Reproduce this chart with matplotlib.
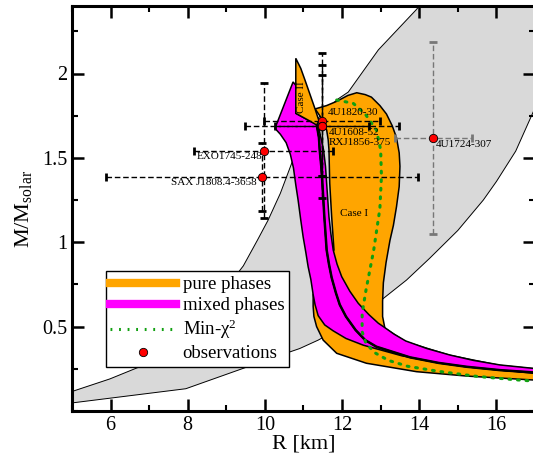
import numpy as np
import matplotlib
matplotlib.use("Agg")
import matplotlib.pyplot as plt
from matplotlib.lines import Line2D
from matplotlib.ticker import MultipleLocator, FixedLocator, FuncFormatter

plt.rcParams["font.family"] = ["Liberation Serif", "DejaVu Serif"]
plt.rcParams["mathtext.fontset"] = "custom"
plt.rcParams["mathtext.rm"] = "Liberation Serif"
plt.rcParams["mathtext.it"] = "Liberation Serif:italic"

# allowed M-R band (gray): upper/left edge and lower/right edge
band_upper_R = [4.9, 5.98, 6.84, 7.5, 8.2, 8.9, 9.44, 9.8, 10.08, 10.4, 10.73, 11.0, 11.5, 11.9, 12.16, 12.94, 13.93, 14.1]
band_upper_M = [0.108, 0.19, 0.27, 0.38, 0.53, 0.70, 0.86, 1.01, 1.13, 1.29, 1.49, 1.62, 1.77, 1.85, 1.89, 2.14, 2.38, 2.43]
band_lower_R = [4.9, 7.95, 10.39, 10.9, 11.38, 12.3, 13.02, 13.67, 14.27, 15.0, 15.66, 16.0, 16.5, 16.93, 17.3]
band_lower_M = [0.045, 0.132, 0.33, 0.37, 0.42, 0.535, 0.658, 0.776, 0.905, 1.07, 1.25, 1.36, 1.54, 1.76, 1.95]

# pure phases, case I (outline incl. low-mass tail)
case1_R = [11.30, 11.60, 11.86, 12.15, 12.38, 12.60, 12.76, 12.98, 13.15, 13.30, 13.41, 13.48, 13.50, 13.48,
           13.41, 13.33, 13.24, 13.14, 13.07, 13.05, 13.05, 13.11, 13.65, 14.79, 16.09, 17.2, 17.2,
           16.94, 15.23, 13.93, 12.63, 11.86, 11.51, 11.34, 11.27, 11.25, 11.25, 11.50,
           11.79, 11.73, 11.68, 11.66, 11.64, 11.60, 11.47]
case1_M = [1.79, 1.81, 1.835, 1.87, 1.886, 1.875, 1.86, 1.81, 1.76, 1.69, 1.62, 1.53, 1.45, 1.33,
           1.21, 1.10, 1.01, 0.88, 0.76, 0.65, 0.56, 0.49, 0.41, 0.33, 0.27, 0.245, 0.18,
           0.184, 0.207, 0.233, 0.283, 0.342, 0.42, 0.50, 0.56, 0.62, 0.69, 0.85,
           0.954, 1.151, 1.349, 1.547, 1.606, 1.665, 1.734]

# pure phases, case II
case2_R = [10.80, 10.93, 11.04, 11.17, 11.30, 11.40, 11.34, 11.12, 10.80]
case2_M = [2.09, 2.03, 1.96, 1.875, 1.79, 1.72, 1.695, 1.724, 1.764]

# mixed phases: left edge, middle (thick) line, right edge
mixA_left_R = [10.26, 10.40, 10.55, 10.66, 10.74, 10.80, 10.86, 10.93, 10.99, 11.06, 11.12, 11.19, 11.25,
               11.30, 11.38, 11.55, 11.77, 12.10, 12.55, 13.55, 14.5, 15.25, 16.1, 16.94, 17.2]
mixA_left_M = [1.675, 1.640, 1.590, 1.520, 1.440, 1.340, 1.250, 1.130, 1.033, 0.940, 0.855, 0.780, 0.690,
               0.630, 0.565, 0.510, 0.475, 0.430, 0.390, 0.327, 0.290, 0.265, 0.243, 0.224, 0.220]
mixA_top_R = [10.26, 10.73, 10.80, 10.80, 11.12, 11.34]
mixA_top_M = [1.675, 1.95, 1.93, 1.764, 1.724, 1.70]
mid_R = [11.34, 11.40, 11.42, 11.46, 11.49, 11.54, 11.60, 11.66, 11.73, 11.84, 11.94, 12.10, 12.35,
         12.60, 12.89, 13.76, 14.5, 15.23, 16.1, 16.94, 17.2]
mid_M = [1.70, 1.62, 1.547, 1.45, 1.349, 1.151, 0.954, 0.87, 0.79, 0.70, 0.63, 0.56, 0.48,
         0.42, 0.381, 0.318, 0.285, 0.262, 0.242, 0.229, 0.226]
mixB_right_R = [11.36, 11.45, 11.52, 11.57, 11.60, 11.63, 11.66, 11.71, 11.77, 11.87, 11.99, 12.2, 12.42,
                12.70, 12.94, 13.07, 13.35, 13.65, 14.2, 14.79, 15.4, 16.09, 16.94, 17.2]
mixB_right_M = [1.715, 1.62, 1.547, 1.45, 1.349, 1.25, 1.151, 1.05, 0.954, 0.87, 0.796, 0.71, 0.638,
                0.57, 0.52, 0.50, 0.455, 0.415, 0.37, 0.332, 0.30, 0.273, 0.253, 0.248]

# minimum chi^2 curve
chi_R = [11.86, 12.29, 12.6, 12.89, 13.0, 13.02, 12.98, 12.82, 12.62, 12.52, 12.52, 12.62, 12.85, 13.2,
         13.7, 14.5, 15.5, 16.5, 17.1]
chi_M = [1.843, 1.823, 1.76, 1.665, 1.547, 1.39, 1.2, 0.954, 0.717, 0.58, 0.47, 0.40, 0.345, 0.30,
         0.265, 0.235, 0.205, 0.185, 0.175]

# observations
obs_names = ["EXO1745-248", "SAX J1808.4-3658", "4U1820-30", "4U1608-52", "RXJ1856-375", "4U1724-307"]
obs_R = [9.97, 9.93, 11.48, 11.48, 11.48, 14.36]
obs_M = [1.543, 1.388, 1.72, 1.69, 1.69, 1.616]
obs_R_err = [1.8, 4.05, 1.5, 2.0, 1.22, 1.0]
obs_M_err = [0.4, 0.2, 0.33, 0.43, 0.3, 0.57]

label_offsets = {"EXO1745-248": (-1, -1, "right"), "SAX J1808.4-3658": (-4, -1, "right"),
                 "4U1820-30": (4, 3, "left"), "4U1608-52": (5, -1.5, "left"),
                 "RXJ1856-375": (5, -8.5, "left"), "4U1724-307": (2, -1, "left")}

ORANGE = "#ffa500"
MAGENTA = "#ff00ff"
GREEN = "#10a010"

fig = plt.figure(figsize=(5.33, 4.58), dpi=100)
ax = fig.add_axes([72 / 533, 47 / 458, 463 / 533, 405 / 458])

# gray band
gx = band_upper_R + [17.5, 17.5] + band_lower_R[::-1]
gy = band_upper_M + [2.43, 2.1] + band_lower_M[::-1]
ax.fill(gx, gy, facecolor="#d9d9d9", edgecolor="black", lw=0.7, zorder=1)

ax.fill(case1_R, case1_M, facecolor=ORANGE, edgecolor="black", lw=1.1, zorder=2)

mixA_R = mixA_top_R + mid_R[1:] + mixA_left_R[::-1]
mixA_M = mixA_top_M + mid_M[1:] + mixA_left_M[::-1]
ax.fill(mixA_R, mixA_M, facecolor=MAGENTA, edgecolor="black", lw=1.1, zorder=3)
mixB_R = mid_R + mixB_right_R[::-1]
mixB_M = mid_M + mixB_right_M[::-1]
ax.fill(mixB_R, mixB_M, facecolor=MAGENTA, edgecolor="black", lw=1.1, zorder=3)
ax.plot(mid_R, mid_M, color="black", lw=1.8, zorder=3.5)

ax.fill(case2_R, case2_M, facecolor=ORANGE, edgecolor="black", lw=1.1, zorder=4)

ax.plot(chi_R, chi_M, color=GREEN, lw=2.2, linestyle=(0, (0.6, 2.2)),
        dash_capstyle="round", zorder=6)

# error bars: dashed bars, solid caps
for i, name in enumerate(obs_names):
    col = "#777777" if name == "4U1724-307" else "black"
    eb = ax.errorbar(obs_R[i], obs_M[i], xerr=obs_R_err[i], yerr=obs_M_err[i], fmt="none",
                     ecolor=col, elinewidth=1.0, capsize=3, capthick=2, zorder=7)
    for c in eb.lines[2]:
        c.set_linestyle((0, (4, 2)))
    for c in eb.lines[1]:
        c.set_color("black")

ax.plot(obs_R, obs_M, "o", color="red", mec="black", mew=0.6, ms=6, zorder=8)

for i, name in enumerate(obs_names):
    dx, dy, ha = label_offsets[name]
    ax.annotate(name, (obs_R[i], obs_M[i]), xytext=(dx, dy), textcoords="offset points",
                ha=ha, va="top" if dy < 2 else "bottom", fontsize=8, zorder=9)

ax.text(12.3, 1.17, "Case I", fontsize=8, ha="center", va="center", zorder=9)
ax.text(10.95, 1.86, "Case II", fontsize=8, ha="center", va="center", rotation=90, zorder=9)

ax.set_xlim(5, 17)
ax.set_ylim(0, 2.4)
ax.xaxis.set_major_locator(MultipleLocator(2))
ax.xaxis.set_minor_locator(MultipleLocator(1))
ax.yaxis.set_major_locator(FixedLocator([0.5, 1.0, 1.5, 2.0]))
ax.yaxis.set_minor_locator(MultipleLocator(0.25))
ax.yaxis.set_major_formatter(FuncFormatter(lambda v, p: "%g" % v))
ax.tick_params(which="both", direction="in", top=True, right=True, labelsize=14.5)
ax.tick_params(which="major", length=8.6, width=1.8)
ax.tick_params(which="minor", length=4.3, width=1.5)
for s in ax.spines.values():
    s.set_linewidth(2.2)

ax.set_xlabel("R [km]", fontsize=16, labelpad=0)
ax.set_ylabel(r"M/M$_{\mathrm{solar}}$", fontsize=16, labelpad=6)

handles = [
    Line2D([], [], color=ORANGE, lw=6),
    Line2D([], [], color=MAGENTA, lw=6),
    Line2D([], [], color=GREEN, lw=2.2, linestyle=(0, (0.6, 2.2))),
    Line2D([], [], color="red", marker="o", mec="black", mew=0.6, ms=6, linestyle="none"),
]
labels = ["pure phases", "mixed phases", "Min-χ$^2$", "observations"]
leg = ax.legend(handles, labels, loc="lower left", bbox_to_anchor=(0.073, 0.109), borderaxespad=0,
                fontsize=13.5, handlelength=3.5, handletextpad=0.35, labelspacing=0.2,
                borderpad=0.25, fancybox=False, framealpha=1, edgecolor="black")
leg.get_frame().set_linewidth(1.0)
leg.set_zorder(10)

fig.savefig("out.png", dpi=100)
